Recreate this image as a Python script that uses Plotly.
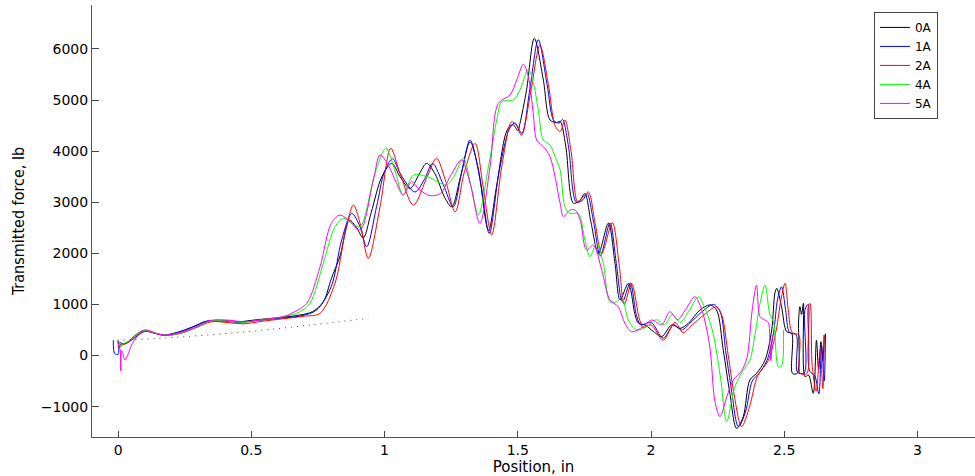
import plotly.graph_objects as go

# Transmitted force vs. position for five current levels
x_0A = [0.0, 0.003, 0.01, 0.03, 0.06, 0.095, 0.13, 0.17, 0.22, 0.28, 0.33, 0.40, 0.45, 0.52, 0.60, 0.68, 0.73, 0.77, 0.80, 0.833,
        0.868, 0.895, 0.92, 0.95, 0.99, 1.027, 1.058, 1.096, 1.13, 1.158, 1.19, 1.225, 1.252, 1.285, 1.321, 1.35, 1.39, 1.42, 1.46, 1.482,
        1.50, 1.508, 1.533, 1.562, 1.596, 1.621, 1.645, 1.659, 1.68, 1.709, 1.735, 1.752, 1.775, 1.803, 1.84, 1.865, 1.884, 1.915, 1.94, 1.953,
        1.977, 2.009, 2.04, 2.078, 2.109, 2.14, 2.184, 2.221, 2.246, 2.271, 2.296, 2.321, 2.346, 2.371, 2.396, 2.428, 2.453, 2.465, 2.472, 2.49,
        2.509, 2.528, 2.531, 2.549, 2.554, 2.559, 2.565, 2.572, 2.578, 2.591, 2.609, 2.621, 2.629, 2.638, 2.645, 2.65]
y_0A = [300, 180, 220, 240, 380, 490, 450, 400, 450, 560, 670, 680, 660, 700, 740, 790, 860, 1050, 1500, 1950,
        2650, 2500, 2300, 2800, 3500, 3760, 3500, 3270, 3550, 3760, 3550, 3100, 2910, 3500, 4180, 3700, 2450, 3300, 4410, 4520,
        4400, 4540, 5200, 6210, 5390, 4610, 4560, 4580, 4100, 2980, 3050, 3170, 2600, 2000, 2590, 1800, 1090, 1410, 800, 630,
        600, 470, 370, 600, 530, 630, 890, 990, 890, 110, -740, -1425, -1200, -480, -350, -90, 500, 1220, 1315, 955,
        466, 434, -349, -349, 695, 955, 800, 1021, -415, -380, -740, 300, -280, 270, -100, 400]

x_1A = [-0.018, -0.013, 0.0, 0.005, 0.02, 0.05, 0.1, 0.135, 0.175, 0.23, 0.29, 0.34, 0.40, 0.46, 0.53, 0.61, 0.69, 0.745, 0.80, 0.839,
        0.877, 0.908, 0.933, 0.97, 1.0, 1.03, 1.06, 1.114, 1.15, 1.18, 1.22, 1.258, 1.29, 1.321, 1.36, 1.393, 1.43, 1.47, 1.49, 1.515,
        1.545, 1.577, 1.61, 1.635, 1.655, 1.668, 1.69, 1.72, 1.745, 1.76, 1.785, 1.81, 1.846, 1.87, 1.893, 1.922, 1.945, 1.962, 2.0, 2.046,
        2.085, 2.115, 2.15, 2.19, 2.235, 2.26, 2.28, 2.30, 2.328, 2.355, 2.38, 2.405, 2.435, 2.46, 2.475, 2.49, 2.505, 2.52, 2.545, 2.55,
        2.575, 2.578, 2.59, 2.595, 2.615, 2.63, 2.64, 2.65, 2.655]
y_1A = [300, 40, 20, 250, 230, 300, 470, 440, 400, 460, 580, 680, 670, 650, 690, 730, 780, 890, 1350, 2260,
        2780, 2520, 2130, 2910, 3600, 3850, 3550, 3200, 3450, 3760, 3350, 2910, 3600, 4217, 3400, 2390, 3600, 4450, 4550, 4350,
        5200, 6180, 5300, 4600, 4550, 4620, 4100, 3000, 3050, 3170, 2600, 1950, 2590, 1800, 1050, 1420, 800, 600, 650, 340,
        600, 500, 650, 850, 1000, 850, 100, -600, -1393, -1100, -500, -350, -100, 450, 1100, 1346, 900, 450, 400, -330,
        -340, 900, 1000, -300, -400, -750, 200, -500, 430]

x_2A = [0.0, 0.005, 0.015, 0.04, 0.07, 0.1, 0.14, 0.18, 0.24, 0.30, 0.35, 0.42, 0.47, 0.54, 0.62, 0.70, 0.758, 0.814, 0.852, 0.883,
        0.908, 0.939, 0.983, 1.023, 1.058, 1.108, 1.16, 1.195, 1.23, 1.265, 1.30, 1.34, 1.37, 1.402, 1.44, 1.477, 1.495, 1.514, 1.55, 1.583,
        1.615, 1.64, 1.659, 1.677, 1.70, 1.725, 1.745, 1.765, 1.79, 1.815, 1.855, 1.88, 1.90, 1.927, 1.955, 1.97, 2.0, 2.046, 2.09, 2.12,
        2.155, 2.2, 2.245, 2.265, 2.29, 2.31, 2.34, 2.37, 2.40, 2.44, 2.47, 2.488, 2.503, 2.515, 2.53, 2.555, 2.56, 2.585, 2.59, 2.597,
        2.605, 2.62, 2.635, 2.645, 2.65]
y_2A = [280, 150, 200, 260, 400, 480, 430, 390, 440, 560, 660, 640, 620, 670, 720, 770, 826, 1413, 2390, 2945,
        2590, 1900, 2910, 4055, 3565, 2945, 3500, 3860, 3400, 2810, 3600, 4150, 3300, 2360, 3700, 4575, 4500, 4310, 5200, 6076,
        5300, 4500, 4380, 4610, 4000, 3000, 3100, 3200, 2600, 2000, 2600, 1800, 1000, 1413, 750, 550, 600, 300, 650, 450,
        600, 800, 950, 800, 0, -700, -1393, -1000, -400, -100, 500, 1100, 1413, 900, 450, 400, -350, -350, 950, 1021,
        -200, -700, 100, -650, 400]

x_4A = [0.0, 0.005, 0.015, 0.04, 0.07, 0.1, 0.14, 0.18, 0.24, 0.30, 0.35, 0.42, 0.47, 0.54, 0.62, 0.68, 0.72, 0.77, 0.814, 0.846,
        0.877, 0.908, 0.964, 1.005, 1.04, 1.07, 1.108, 1.16, 1.233, 1.26, 1.296, 1.325, 1.352, 1.39, 1.421, 1.44, 1.483, 1.508, 1.54, 1.56,
        1.577, 1.596, 1.621, 1.64, 1.659, 1.677, 1.696, 1.727, 1.752, 1.771, 1.796, 1.821, 1.846, 1.871, 1.89, 1.915, 1.946, 1.984, 2.02, 2.05,
        2.08, 2.11, 2.14, 2.178, 2.2, 2.23, 2.26, 2.284, 2.315, 2.345, 2.371, 2.39, 2.409, 2.428, 2.446, 2.46, 2.478, 2.49, 2.497]
y_4A = [250, 180, 220, 280, 420, 490, 440, 400, 450, 570, 680, 670, 650, 700, 760, 850, 1021, 1804, 2520, 2685,
        2587, 2520, 3565, 4055, 3600, 3140, 3530, 3500, 3340, 3500, 3860, 3300, 2750, 3695, 4608, 4967, 5000, 5196, 5600, 5300,
        4804, 4217, 4120, 3891, 3630, 2912, 2782, 2782, 2260, 1933, 2195, 1804, 1053, 1053, 1150, 695, 499, 564, 700, 600,
        800, 650, 850, 1150, 950, 500, -400, -1295, -610, -300, -90, 400, 1020, 1380, 800, 650, -219, -200, 500]

x_5A = [0.0, 0.008, 0.01, 0.013, 0.018, 0.026, 0.057, 0.095, 0.11, 0.15, 0.18, 0.24, 0.30, 0.35, 0.42, 0.47, 0.54, 0.62, 0.66, 0.708,
        0.758, 0.80, 0.833, 0.864, 0.908, 0.958, 0.983, 1.014, 1.045, 1.07, 1.102, 1.13, 1.171, 1.21, 1.246, 1.289, 1.321, 1.358, 1.396, 1.427,
        1.471, 1.496, 1.521, 1.54, 1.558, 1.571, 1.596, 1.621, 1.659, 1.671, 1.696, 1.715, 1.734, 1.758, 1.784, 1.815, 1.846, 1.877, 1.902, 1.927,
        1.971, 2.003, 2.04, 2.071, 2.10, 2.13, 2.165, 2.19, 2.22, 2.24, 2.259, 2.285, 2.309, 2.34, 2.36, 2.38, 2.396, 2.409, 2.425, 2.44,
        2.446, 2.45, 2.455]
y_5A = [250, 100, -300, 100, 40, -90, 270, 490, 500, 420, 400, 460, 580, 690, 690, 660, 700, 760, 850, 1021,
        1738, 2587, 2750, 2652, 2456, 3434, 3924, 3728, 3370, 3141, 3400, 3250, 3130, 3170, 3500, 3826, 3370, 2587, 3695, 4935,
        5098, 5391, 5700, 5450, 4740, 4217, 4086, 3891, 2978, 2716, 2847, 2847, 2652, 2065, 2162, 1673, 1086, 955, 630, 466,
        564, 695, 600, 857, 700, 900, 1150, 900, 200, -900, -1198, -800, -480, -300, -50, 900, 1380, 760, 700, 650,
        250, -100, 400]

# Reference (static) curve, dotted
x_ref = [0.02, 0.17, 0.48, 0.73, 0.94]
y_ref = [300, 340, 465, 600, 730]

x_ticks = [0, 0.5, 1, 1.5, 2, 2.5, 3]
x_ticktext = ["0", "0.5", "1", "1.5", "2", "2.5", "3"]
y_ticks = [-1000, 0, 1000, 2000, 3000, 4000, 5000, 6000]

series = [
    ("0A", x_0A, y_0A, "#000000"),
    ("1A", x_1A, y_1A, "#0000ff"),
    ("2A", x_2A, y_2A, "#ff0000"),
    ("4A", x_4A, y_4A, "#00ff00"),
    ("5A", x_5A, y_5A, "#ff00ff"),
]

fig = go.Figure()
for name, xs, ys, color in series:
    fig.add_trace(go.Scatter(
        x=xs, y=ys, name=name, mode="lines",
        line=dict(color=color, width=1, shape="spline", smoothing=0.9),
    ))

fig.add_trace(go.Scatter(
    x=x_ref, y=y_ref, mode="lines", showlegend=False, hoverinfo="skip",
    line=dict(color="#444444", width=1, dash="1px,5px", shape="spline"),
))

tick_font = dict(family="DejaVu Sans", size=14, color="#000000")

fig.update_layout(
    width=975, height=476,
    margin=dict(l=92, r=0, t=5, b=39),
    plot_bgcolor="white", paper_bgcolor="white",
    legend=dict(
        x=0.8856, y=0.984, xanchor="left", yanchor="top",
        bgcolor="white", bordercolor="#444444", borderwidth=1,
        font=dict(family="DejaVu Sans", size=12, color="#000000"),
        tracegroupgap=0, itemwidth=30,
    ),
    xaxis=dict(
        range=[-0.098, 3.216], tickvals=x_ticks, ticktext=x_ticktext,
        ticks="inside", ticklen=6, tickcolor="#444444",
        showline=True, linecolor="#555555", linewidth=1,
        showgrid=False, zeroline=False, tickfont=tick_font,
        title=dict(text="Position, in", font=dict(family="DejaVu Sans", size=15, color="#000000"), standoff=2),
    ),
    yaxis=dict(
        range=[-1595, 6860], tickvals=y_ticks,
        ticks="inside", ticklen=7, tickcolor="#444444",
        showline=True, linecolor="#555555", linewidth=1,
        showgrid=False, zeroline=False, tickfont=tick_font,
        title=dict(text="Transmitted force, lb",
                   font=dict(family="Liberation Sans Narrow, DejaVu Sans Condensed", size=16, color="#000000"),
                   standoff=12),
    ),
)

fig.write_html("out.html")
